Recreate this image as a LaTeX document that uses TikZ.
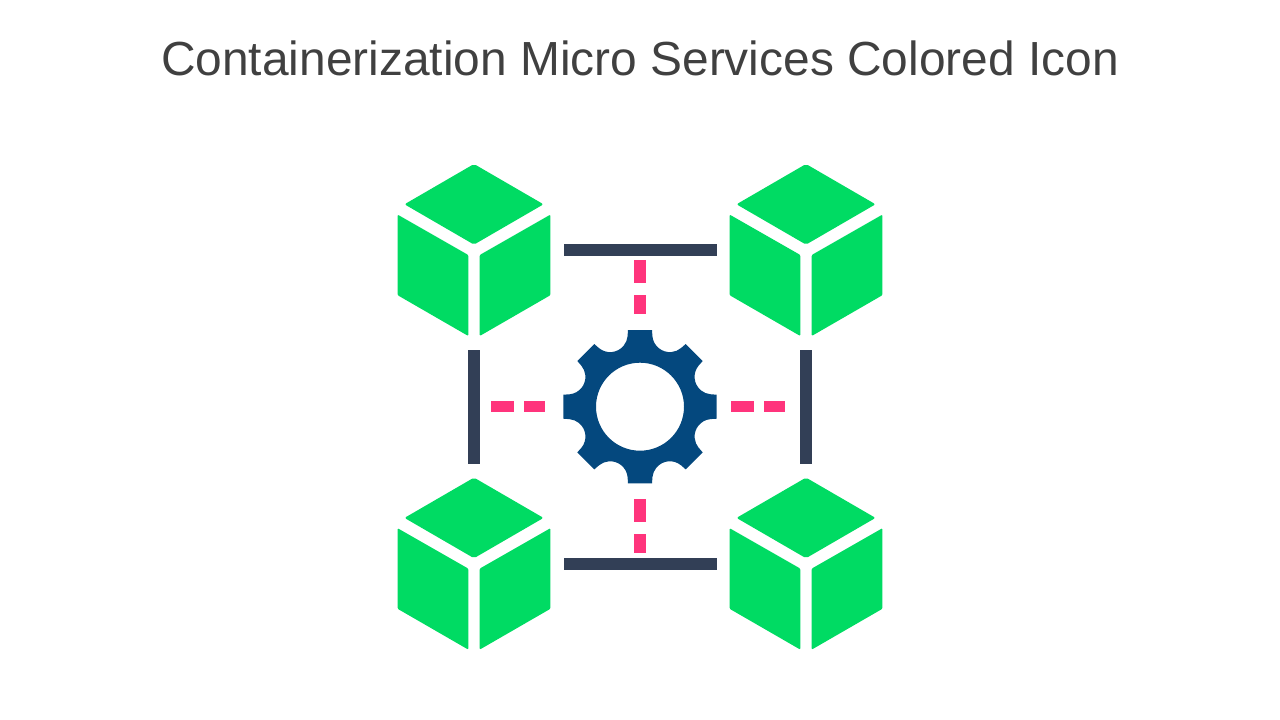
\documentclass[tikz,border=0pt]{standalone}
\usepackage{fontspec}
\setmainfont{Liberation Sans}
\definecolor{cubegreen}{HTML}{00DB63}
\definecolor{barnavy}{HTML}{323F56}
\definecolor{dashpink}{HTML}{FF347C}
\definecolor{gearblue}{HTML}{04487E}
\definecolor{titlegrey}{HTML}{404040}
\tikzset{
  face/.style={fill=cubegreen,rounded corners=0.8pt},
  topface/.style={fill=cubegreen,rounded corners=1.5pt},
  bar/.style={fill=barnavy},
  dashbit/.style={fill=dashpink},
}
\begin{document}
\begin{tikzpicture}[x=0.75pt,y=-0.75pt]
\useasboundingbox (0,0) rectangle (1280,720);
\node[text=titlegrey,font=\fontsize{35.9}{40}\selectfont,anchor=center] (title) at (640,58) {Containerization Micro Services Colored Icon};
% cubes
\foreach \dx/\dy in {0/0,332/0,0/313.6,332/313.6}{
  \begin{scope}[shift={(\dx,\dy)}]
    \fill[topface] (474,164) -- (543.5,204.3) -- (474,244.6) -- (404.5,204.3) -- cycle;
    \fill[face] (397.6,214.6) -- (468.3,255) -- (468.3,336) -- (397.6,295.2) -- cycle;
    \fill[face] (550.4,214.6) -- (479.7,255) -- (479.7,336) -- (550.4,295.2) -- cycle;
  \end{scope}
}
% solid bars
\fill[bar] (564,244) rectangle (716.7,255.8);
\fill[bar] (564,558.2) rectangle (716.7,570);
\fill[bar] (468.1,350) rectangle (479.9,464);
\fill[bar] (800.1,350) rectangle (811.9,464);
% dashes
\fill[dashbit] (634.1,260) rectangle (645.9,283.4);
\fill[dashbit] (634.1,295) rectangle (645.9,314);
\fill[dashbit] (634.1,499) rectangle (645.9,522.4);
\fill[dashbit] (634.1,534) rectangle (645.9,553);
\fill[dashbit] (491,400.6) rectangle (514.4,412.4);
\fill[dashbit] (524,400.6) rectangle (545.2,412.4);
\fill[dashbit] (731,400.6) rectangle (754.4,412.4);
\fill[dashbit] (764,400.6) rectangle (785.2,412.4);
% gear
\begin{scope}[shift={(640,406.7)},y=0.75pt]
  \fill[gearblue,even odd rule]
    (81.1:77.6)
    \foreach \i in {0,...,7}{
      -- ({80-45*\i}:71.5)
      arc[start angle={185.5-45*\i},end angle={309.5-45*\i},radius=17.5]
      -- ({53.9-45*\i}:77.6)
      -- ({36.1-45*\i}:77.6)
    } -- cycle
    (44,0) arc[start angle=0,end angle=360,radius=44];
\end{scope}
\end{tikzpicture}
\end{document}
